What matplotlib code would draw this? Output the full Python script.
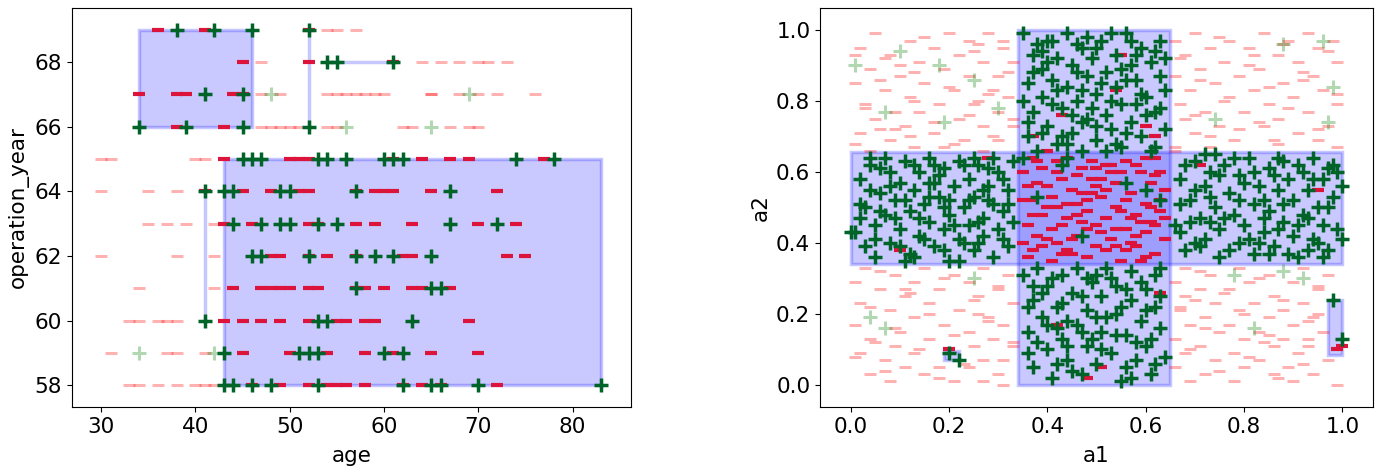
import matplotlib
matplotlib.use("Agg")
import matplotlib.pyplot as plt
from matplotlib.patches import Rectangle

plt.rcParams['font.family'] = ['DejaVu Sans']
plt.rcParams['font.size'] = 15.5

# ---------------- Left panel data (age vs operation_year) ----------------
pos_in_rows = {69: [38, 42, 46, 52], 68: [54, 55, 61], 67: [41, 45], 66: [34, 39, 45, 52],
               65: [45, 46, 47, 53, 54, 56, 60, 61, 62, 74, 78],
               64: [41, 43, 44, 49, 50, 57, 67], 63: [44, 47, 49, 50, 53, 55, 67, 72],
               62: [46, 47, 52, 57, 59, 61, 65], 61: [57, 65, 66], 60: [41, 53, 54, 63],
               59: [43, 51, 52, 53, 60, 62], 58: [43, 44, 46, 48, 53, 62, 65, 66, 70, 83]}
neg_in_rows = {69: [36, 41, 52], 68: [45, 52, 61], 67: [34, 38, 39, 44, 45], 66: [38, 43],
               65: [43, 50, 51, 52, 61, 64, 67, 69, 77],
               64: [41, 45, 48, 51, 52, 57, 59, 60, 61, 65, 72],
               63: [43, 46, 52, 53, 57, 59, 63, 70, 74],
               62: [48, 49, 52, 54, 57, 62, 63, 73, 75],
               61: [44, 47, 48, 49, 50, 52, 53, 57, 58, 60, 63, 64, 67],
               60: [43, 45, 47, 49, 52, 55, 56, 58, 59, 69],
               59: [45, 50, 54, 58, 61, 65, 70],
               58: [46, 49, 52, 54, 55, 56, 58, 62, 64, 66, 72]}
pos_out_rows = {67: [48, 69], 66: [56, 65], 59: [34, 42]}
neg_out_rows = {69: [54, 55, 57], 68: [47, 64, 66, 68, 70, 71, 73],
                67: [47, 49, 54, 55, 56, 57, 58, 59, 60, 65, 65, 68, 70, 72, 76],
                66: [47, 48, 49, 50, 51, 54, 55, 62, 63, 67, 69, 70],
                65: [30, 31, 40, 41], 64: [30, 35, 38], 63: [35, 37, 39, 42],
                62: [30, 38, 42], 61: [34, 42], 60: [33, 34, 36, 37, 38],
                59: [31, 37, 38, 41], 58: [33, 34, 36, 38, 40, 41, 42]}

# boxes: (age_min, age_max, year_min, year_max)
left_boxes = [(34, 46, 66, 69), (52, 52, 66, 69), (54, 61, 68, 68),
              (41, 41, 60, 64), (43, 83, 58, 65)]

# ---------------- Right panel data (a1 vs a2) ----------------
arm_left_a1 = [0.01,0.02,0.03,0.04,0.05,0.05,0.06,0.07,0.08,0.08,0.09,0.10,0.10,0.11,0.12,0.12,0.13,0.14,0.14,0.15,0.16,0.16,0.17,0.17,0.18,0.19,0.19,0.20,0.20,0.21,0.22,0.22,0.23,0.24,0.24,0.25,0.25,0.26,0.27,0.27,0.28,0.29,0.29,0.30,0.30,0.31,0.32,0.32,0.33,0.33,0.03,0.07,0.11,0.15,0.18,0.21,0.26,0.28,0.31,0.04,0.09,0.13,0.23,0.06,0.16,0.27,0.02,0.19,0.24,0.31,0.00]
arm_left_a2 = [0.43,0.58,0.50,0.62,0.45,0.36,0.54,0.48,0.60,0.40,0.52,0.57,0.44,0.63,0.49,0.37,0.55,0.42,0.60,0.51,0.46,0.64,0.39,0.57,0.53,0.44,0.61,0.48,0.35,0.56,0.41,0.63,0.50,0.45,0.58,0.38,0.53,0.62,0.47,0.42,0.56,0.51,0.36,0.60,0.44,0.49,0.55,0.39,0.63,0.46,0.39,0.64,0.52,0.41,0.59,0.45,0.40,0.61,0.58,0.55,0.47,0.36,0.62,0.61,0.53,0.55,0.47,0.38,0.52,0.41,0.43]
arm_left_b_a1 = [0.02,0.05,0.08,0.11,0.14,0.17,0.20,0.23,0.26,0.29,0.32,0.04,0.10,0.16,0.22,0.28,0.06,0.13,0.19,0.25]
arm_left_b_a2 = [0.51,0.41,0.56,0.35,0.47,0.62,0.52,0.40,0.46,0.64,0.51,0.64,0.39,0.57,0.35,0.52,0.49,0.62,0.50,0.64]
arm_right_a1 = [0.66,0.67,0.68,0.69,0.70,0.71,0.72,0.72,0.73,0.74,0.75,0.75,0.76,0.77,0.78,0.79,0.79,0.80,0.81,0.82,0.82,0.83,0.84,0.85,0.85,0.86,0.87,0.88,0.88,0.89,0.90,0.90,0.91,0.92,0.92,0.93,0.94,0.94,0.95,0.96,0.96,0.97,0.98,0.98,0.99,1.00,1.00,0.67,0.70,0.74,0.77,0.80,0.84,0.87,0.91,0.95,0.68,0.73,0.86,0.89,0.93,0.97,0.71,0.78,0.83]
arm_right_a2 = [0.45,0.58,0.38,0.52,0.63,0.47,0.41,0.56,0.60,0.50,0.36,0.44,0.62,0.54,0.48,0.40,0.59,0.45,0.64,0.51,0.37,0.56,0.43,0.61,0.49,0.39,0.55,0.46,0.63,0.58,0.42,0.52,0.36,0.60,0.48,0.55,0.41,0.64,0.50,0.45,0.58,0.38,0.53,0.62,0.44,0.41,0.56,0.43,0.55,0.65,0.38,0.57,0.52,0.44,0.62,0.40,0.62,0.46,0.59,0.37,0.47,0.61,0.39,0.64,0.40]
arm_right_b_a1 = [0.67,0.70,0.73,0.76,0.79,0.82,0.85,0.88,0.91,0.94,0.97,0.69,0.75,0.81,0.87,0.93,0.99,0.72,0.84,0.96]
arm_right_b_a2 = [0.51,0.40,0.53,0.47,0.52,0.60,0.37,0.51,0.45,0.58,0.50,0.46,0.59,0.41,0.64,0.38,0.60,0.65,0.47,0.36]
arm_top_a1 = [0.35,0.36,0.36,0.37,0.37,0.38,0.39,0.39,0.40,0.40,0.41,0.42,0.42,0.43,0.44,0.44,0.45,0.45,0.46,0.47,0.47,0.48,0.48,0.49,0.50,0.50,0.51,0.52,0.52,0.53,0.54,0.54,0.55,0.55,0.56,0.57,0.57,0.58,0.59,0.59,0.60,0.61,0.61,0.62,0.63,0.63,0.64,0.64,0.38,0.41,0.43,0.46,0.49,0.51,0.53,0.56,0.58,0.60,0.62,0.35,0.47,0.55,0.64,0.40,0.52,0.45]
arm_top_a2 = [0.99,0.70,0.85,0.93,0.77,0.66,0.89,0.81,0.97,0.73,0.86,0.68,0.92,0.78,0.84,0.99,0.71,0.90,0.80,0.95,0.66,0.87,0.75,0.92,0.82,0.69,0.97,0.88,0.76,0.72,0.93,0.84,0.67,0.79,0.99,0.90,0.74,0.86,0.70,0.95,0.81,0.91,0.66,0.77,0.87,0.97,0.72,0.83,0.96,0.79,0.70,0.88,0.78,0.85,0.99,0.71,0.93,0.76,0.94,0.80,0.83,0.89,0.92,0.91,0.66,0.76]
arm_top_b_a1 = [0.36,0.39,0.42,0.44,0.47,0.50,0.53,0.56,0.59,0.62,0.37,0.41,0.46,0.50,0.54,0.58,0.63,0.39,0.48,0.57]
arm_top_b_a2 = [0.74,0.94,0.83,0.68,0.74,0.95,0.80,0.86,0.82,0.67,0.88,0.97,0.96,0.73,0.68,0.79,0.78,0.71,0.98,0.97]
arm_bot_a1 = [0.35,0.36,0.37,0.37,0.38,0.39,0.40,0.40,0.41,0.42,0.43,0.43,0.44,0.45,0.46,0.46,0.47,0.48,0.48,0.49,0.50,0.51,0.51,0.52,0.53,0.54,0.54,0.55,0.56,0.57,0.57,0.58,0.59,0.60,0.60,0.61,0.62,0.62,0.63,0.64,0.38,0.41,0.44,0.47,0.50,0.53,0.56,0.59,0.63,0.36,0.42,0.49,0.55,0.61]
arm_bot_a2 = [0.31,0.15,0.24,0.05,0.33,0.19,0.10,0.28,0.02,0.22,0.13,0.31,0.07,0.26,0.17,0.33,0.03,0.21,0.11,0.29,0.06,0.25,0.15,0.33,0.09,0.20,0.28,0.01,0.14,0.24,0.32,0.07,0.18,0.27,0.11,0.03,0.22,0.31,0.16,0.08,0.12,0.30,0.18,0.25,0.19,0.30,0.05,0.29,0.25,0.22,0.06,0.13,0.22,0.13]
arm_bot_b_a1 = [0.36,0.39,0.42,0.45,0.48,0.51,0.54,0.57,0.60,0.63,0.37,0.43,0.47,0.52,0.58,0.62,0.40,0.50,0.56,0.44]
arm_bot_b_a2 = [0.09,0.26,0.16,0.04,0.30,0.10,0.14,0.02,0.21,0.33,0.28,0.23,0.15,0.19,0.12,0.06,0.17,0.31,0.27,0.11]
center_pos_a1 = [0.38, 0.47, 0.56, 0.63, 0.43, 0.60, 0.35, 0.44]
center_pos_a2 = [0.53, 0.42, 0.57, 0.52, 0.62, 0.55, 0.64, 0.64]
small_pos_a1 = [0.98, 1.00, 0.22, 0.20]
small_pos_a2 = [0.24, 0.13, 0.07, 0.09]

center_neg_a1 = [0.35,0.36,0.37,0.37,0.38,0.39,0.40,0.40,0.41,0.42,0.42,0.43,0.44,0.44,0.45,0.46,0.46,0.47,0.48,0.48,0.49,0.50,0.50,0.51,0.52,0.52,0.53,0.54,0.54,0.55,0.56,0.56,0.57,0.58,0.58,0.59,0.60,0.60,0.61,0.62,0.62,0.63,0.64,0.64,0.36,0.38,0.41,0.43,0.45,0.47,0.49,0.51,0.53,0.55,0.57,0.59,0.61,0.63,0.39,0.44,0.50,0.56,0.62,0.35,0.42,0.48,0.54,0.60,0.37,0.46,0.52,0.58]
center_neg_a2 = [0.60,0.45,0.52,0.38,0.63,0.48,0.56,0.41,0.35,0.60,0.50,0.45,0.64,0.38,0.55,0.48,0.42,0.61,0.52,0.36,0.58,0.45,0.39,0.53,0.62,0.47,0.41,0.57,0.50,0.35,0.44,0.63,0.54,0.48,0.39,0.60,0.51,0.43,0.57,0.37,0.64,0.49,0.55,0.41,0.56,0.42,0.53,0.58,0.37,0.46,0.63,0.43,0.60,0.49,0.40,0.46,0.50,0.60,0.61,0.51,0.56,0.52,0.45,0.40,0.40,0.44,0.44,0.36,0.48,0.59,0.38,0.62]
center_neg_b_a1 = [0.36,0.39,0.41,0.44,0.46,0.49,0.51,0.53,0.56,0.58,0.61,0.63,0.38,0.42,0.45,0.48,0.52,0.55,0.59,0.62,0.37,0.40,0.43,0.47,0.50,0.54,0.57,0.60,0.64,0.35]
center_neg_b_a2 = [0.36,0.39,0.44,0.47,0.51,0.54,0.58,0.62,0.38,0.42,0.46,0.52,0.57,0.63,0.41,0.49,0.55,0.60,0.35,0.59,0.64,0.50,0.37,0.54,0.61,0.39,0.47,0.64,0.47,0.52]
arm_neg_a1 = [0.37, 0.43, 0.54, 0.60, 0.63, 0.42, 0.51, 0.71, 0.95, 0.99, 1.00, 0.20, 0.10, 0.28, 0.62, 0.48, 0.40, 0.55]
arm_neg_a2 = [0.70, 0.76, 0.83, 0.73, 0.26, 0.17, 0.05, 0.62, 0.55, 0.10, 0.11, 0.10, 0.38, 0.64, 0.70, 0.02, 0.66, 0.93]

out_pos_a1 = [0.01, 0.10, 0.18, 0.25, 0.30, 0.04, 0.07, 0.19, 0.96, 0.97, 0.98, 0.88, 0.74, 0.92, 0.82, 0.25, 0.07, 0.88, 0.78]
out_pos_a2 = [0.90, 0.94, 0.90, 0.86, 0.78, 0.19, 0.16, 0.74, 0.97, 0.74, 0.84, 0.96, 0.75, 0.30, 0.16, 0.30, 0.77, 0.32, 0.31]

tl_a1 = [0.05,0.20,0.28,0.12,0.24,0.02,0.17,0.31,0.08,0.22,0.14,0.27,0.33,0.04,0.19,0.10,0.24,0.30,0.01,0.15,0.07,0.21,0.29,0.12,0.32,0.03,0.18,0.25,0.09,0.14,0.30,0.05,0.22,0.11,0.27,0.33,0.02,0.17,0.08,0.23,0.30,0.13,0.19,0.04,0.27,0.26,0.13,0.06,0.31,
         0.15,0.26,0.01,0.10,0.32,0.06,0.20,0.28,0.13,0.03,0.24,0.17,0.09,0.29,0.21,0.01,0.12,0.33,0.07,0.25]
tl_a2 = [0.99,0.99,0.99,0.97,0.97,0.95,0.95,0.95,0.93,0.93,0.91,0.91,0.91,0.89,0.89,0.87,0.87,0.87,0.85,0.85,0.83,0.83,0.83,0.81,0.81,0.79,0.79,0.79,0.77,0.77,0.77,0.75,0.75,0.73,0.73,0.73,0.71,0.71,0.69,0.69,0.69,0.67,0.67,0.66,0.66,0.80,0.88,0.72,0.97,
         0.98,0.96,0.93,0.90,0.88,0.86,0.84,0.82,0.80,0.78,0.76,0.74,0.72,0.70,0.68,0.68,0.70,0.75,0.92,0.94]
tr_a1 = [0.70,0.84,0.93,0.66,0.77,0.89,0.98,0.73,0.81,0.95,0.68,0.87,0.76,0.91,0.99,0.71,0.83,0.66,0.79,0.94,0.74,0.88,0.69,0.82,0.96,0.77,0.90,0.67,0.85,0.99,0.72,0.80,0.93,0.68,0.87,0.75,0.84,0.97,0.70,0.91,0.78,0.86,0.95,0.66,0.73,0.99,
         0.75,0.88,0.97,0.67,0.81,0.92,0.71,0.85,0.99,0.76,0.89,0.70,0.83,0.95,0.73,0.87,0.66,0.79,0.92,0.82]
tr_a2 = [0.99,0.99,0.99,0.97,0.97,0.97,0.97,0.95,0.95,0.95,0.93,0.93,0.91,0.91,0.91,0.89,0.89,0.87,0.87,0.87,0.85,0.85,0.83,0.83,0.83,0.81,0.81,0.79,0.79,0.79,0.77,0.77,0.77,0.75,0.75,0.73,0.73,0.73,0.71,0.71,0.69,0.69,0.69,0.67,0.67,0.67,
         0.98,0.96,0.94,0.92,0.90,0.88,0.86,0.84,0.82,0.80,0.78,0.76,0.74,0.72,0.70,0.68,0.66,0.72,0.86,0.93]
bl_a1 = [0.03,0.15,0.27,0.09,0.21,0.32,0.01,0.13,0.24,0.06,0.18,0.30,0.11,0.26,0.02,0.16,0.33,0.08,0.22,0.13,0.28,0.01,0.19,0.31,0.10,0.24,0.04,0.16,0.29,0.09,0.25,0.33,0.02,0.13,0.07,0.27,0.31,0.11,0.18,0.24,0.04,0.15,0.30,0.08,0.21,0.27,
         0.06,0.19,0.30,0.12,0.25,0.04,0.16,0.28,0.09,0.21,0.33,0.14,0.01,0.23,0.07,0.18,0.31,0.11,0.26,0.05]
bl_a2 = [0.33,0.33,0.33,0.31,0.31,0.31,0.29,0.29,0.29,0.27,0.27,0.27,0.25,0.25,0.23,0.23,0.23,0.21,0.21,0.19,0.19,0.17,0.17,0.17,0.15,0.15,0.13,0.13,0.13,0.11,0.11,0.11,0.09,0.09,0.07,0.07,0.07,0.05,0.05,0.05,0.03,0.03,0.03,0.01,0.01,0.01,
         0.32,0.30,0.28,0.26,0.24,0.22,0.20,0.18,0.16,0.14,0.12,0.10,0.08,0.06,0.04,0.02,0.00,0.27,0.20,0.12]
br_a1 = [0.68,0.79,0.92,0.73,0.85,0.97,0.66,0.81,0.90,0.71,0.77,0.95,0.68,0.86,0.74,0.82,0.92,0.67,0.79,0.88,0.72,0.85,0.94,0.69,0.77,0.90,0.75,0.83,0.96,0.66,0.80,0.88,0.71,0.86,0.93,0.68,0.78,0.91,0.74,0.83,0.97,0.66,0.80,0.89,0.72,0.86,0.94,0.69,0.78,0.90,
         0.71,0.83,0.95,0.76,0.88,0.67,0.80,0.93,0.72,0.85,0.93,0.69,0.81,0.92,0.75,0.87,0.99,0.70,0.84,0.95]
br_a2 = [0.33,0.33,0.33,0.31,0.31,0.31,0.29,0.29,0.29,0.27,0.27,0.27,0.25,0.25,0.23,0.23,0.23,0.21,0.21,0.21,0.19,0.19,0.19,0.17,0.17,0.17,0.15,0.15,0.15,0.13,0.13,0.13,0.11,0.11,0.11,0.09,0.09,0.09,0.07,0.07,0.07,0.05,0.05,0.05,0.03,0.03,0.03,0.01,0.01,0.01,
         0.32,0.30,0.28,0.26,0.24,0.22,0.20,0.18,0.16,0.14,0.13,0.10,0.08,0.06,0.04,0.02,0.00,0.24,0.12,0.20]

right_boxes = [(0.0, 1.0, 0.34, 0.655), (0.34, 0.65, 0.0, 1.0),
               (0.97, 1.0, 0.085, 0.24), (0.19, 0.22, 0.07, 0.095)]

# ---------------- styles ----------------
POS_C = '#006428'
NEG_C = '#dc143c'
FADE_POS = 'green'
FADE_NEG = 'red'
BOX_FACE = (0.0, 0.0, 1.0, 0.21)
BOX_EDGE = (0.0, 0.0, 1.0, 0.22)


def flatten(rows):
    xs, ys = [], []
    for y, ages in rows.items():
        for a in ages:
            xs.append(a)
            ys.append(y)
    return xs, ys


def draw_boxes(ax, boxes):
    for x0, x1, y0, y1 in boxes:
        ax.add_patch(Rectangle((x0, y0), x1 - x0, y1 - y0, facecolor=BOX_FACE,
                               edgecolor=BOX_EDGE, linewidth=2.5, zorder=1))


fig = plt.figure(figsize=(13.89, 4.74), dpi=100)
ax1 = fig.add_axes([0.0518, 0.1414, 0.4025, 0.842])
ax2 = fig.add_axes([0.5904, 0.1414, 0.398, 0.842])

# left
draw_boxes(ax1, left_boxes)
x, y = flatten(neg_out_rows)
ax1.plot(x, y, ls='none', marker='_', ms=9, mew=2.2, color=FADE_NEG, alpha=0.3, zorder=2)
x, y = flatten(pos_out_rows)
ax1.plot(x, y, ls='none', marker='+', ms=10, mew=2.2, color=FADE_POS, alpha=0.3, zorder=2)
x, y = flatten(neg_in_rows)
ax1.plot(x, y, ls='none', marker='_', ms=9, mew=3, color=NEG_C, zorder=3)
x, y = flatten(pos_in_rows)
ax1.plot(x, y, ls='none', marker='+', ms=10, mew=2.5, color=POS_C, zorder=4)
ax1.set_xlim(26.9, 86.2)
ax1.set_ylim(57.33, 69.67)
ax1.set_xticks([30, 40, 50, 60, 70, 80])
ax1.set_yticks([58, 60, 62, 64, 66, 68])
ax1.set_xlabel('age', labelpad=7)
ax1.set_ylabel('operation_year')

# right
draw_boxes(ax2, right_boxes)
for xa, ya in [(tl_a1, tl_a2), (tr_a1, tr_a2), (bl_a1, bl_a2), (br_a1, br_a2)]:
    ax2.plot(xa, ya, ls='none', marker='_', ms=9, mew=2.2, color=FADE_NEG, alpha=0.3, zorder=2)
ax2.plot(out_pos_a1, out_pos_a2, ls='none', marker='+', ms=10, mew=2.2, color=FADE_POS, alpha=0.3, zorder=2)
for xa, ya in [(center_neg_a1, center_neg_a2), (center_neg_b_a1, center_neg_b_a2), (arm_neg_a1, arm_neg_a2)]:
    ax2.plot(xa, ya, ls='none', marker='_', ms=9, mew=3, color=NEG_C, zorder=3)
for xa, ya in [(arm_left_a1, arm_left_a2), (arm_left_b_a1, arm_left_b_a2),
               (arm_right_a1, arm_right_a2), (arm_right_b_a1, arm_right_b_a2),
               (arm_top_a1, arm_top_a2), (arm_top_b_a1, arm_top_b_a2),
               (arm_bot_a1, arm_bot_a2), (arm_bot_b_a1, arm_bot_b_a2),
               (center_pos_a1, center_pos_a2), (small_pos_a1, small_pos_a2)]:
    ax2.plot(xa, ya, ls='none', marker='+', ms=10, mew=2.5, color=POS_C, zorder=4)
ax2.set_xlim(-0.062, 1.062)
ax2.set_ylim(-0.062, 1.062)
ax2.set_xticks([0.0, 0.2, 0.4, 0.6, 0.8, 1.0])
ax2.set_yticks([0.0, 0.2, 0.4, 0.6, 0.8, 1.0])
ax2.set_xlabel('a1', labelpad=7)
ax2.set_ylabel('a2')

fig.savefig('out.png', dpi=100)
